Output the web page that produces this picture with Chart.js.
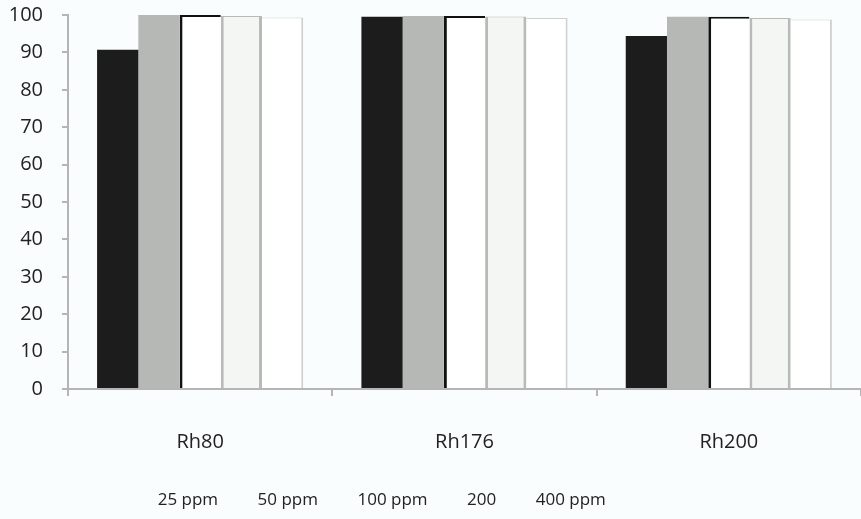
<!DOCTYPE html>
<html>
<head>
<meta charset="utf-8">
<script src="https://cdn.jsdelivr.net/npm/chart.js@4.4.1/dist/chart.umd.min.js"></script>
<style>
  html, body { margin: 0; padding: 0; background: #fafdfd; }
  #wrap { width: 861px; height: 519px; }
</style>
</head>
<body>
<div id="wrap"><canvas id="myChart"></canvas></div>
<script>
// data
const categories = ["Rh80", "Rh176", "Rh200"];
const seriesNames = ["25 ppm", "50 ppm", "100 ppm", "200", "400 ppm"];
const ppm25 = [90.7, 99.5, 94.4];
const ppm50 = [100, 99.7, 99.5];
const ppm100 = [100, 99.7, 99.5];
const ppm200 = [99.7, 99.6, 99.2];
const ppm400 = [99.3, 99.2, 98.8];
const yTicks = [0, 10, 20, 30, 40, 50, 60, 70, 80, 90, 100];

const axisGray = "#b4b6b6";
const font = "Open Sans";

// nudge the legend left, like in the original
const shiftLegend = {
  id: "shiftLegend",
  afterLayout(chart) {
    chart.legend.left -= 67;
    chart.legend.right -= 67;
  }
};

const ctx = document.getElementById("myChart");

new Chart(ctx, {
  type: "bar",
  data: {
    labels: categories,
    datasets: [
      { label: seriesNames[0], data: ppm25, backgroundColor: "#1b1c1b", borderWidth: 0 },
      { label: seriesNames[1], data: ppm50, backgroundColor: "#b6b8b6", borderWidth: 0 },
      { label: seriesNames[2], data: ppm100, backgroundColor: "#ffffff",
        borderColor: "#111111", borderWidth: { left: 3, top: 2, right: 0, bottom: 0 } },
      { label: seriesNames[3], data: ppm200, backgroundColor: "#f3f6f3",
        borderColor: "#b8bab8", borderWidth: { left: 3, top: 1, right: 3, bottom: 0 } },
      { label: seriesNames[4], data: ppm400, backgroundColor: "#ffffff",
        borderColor: "#cfd1cf", borderWidth: { left: 0, top: 1, right: 2, bottom: 0 } }
    ]
  },
  options: {
    responsive: true,
    maintainAspectRatio: false,
    animation: false,
    layout: { padding: { top: 0, left: 5, right: 0, bottom: 0 } },
    datasets: {
      bar: { categoryPercentage: 0.78, barPercentage: 1, borderSkipped: false }
    },
    scales: {
      x: {
        offset: true,
        grid: { display: true, offset: true, drawOnChartArea: false, tickLength: 7, color: axisGray, lineWidth: 2 },
        border: { color: axisGray, width: 2 },
        ticks: { color: "#222", font: { family: font, size: 20 }, padding: 34 },
        afterFit: (axis) => { axis.height -= 4; }
      },
      y: {
        min: 0,
        max: 100,
        afterBuildTicks: (axis) => { axis.ticks = yTicks.map(v => ({ value: v })); },
        afterFit: (axis) => {
          axis.width = 63;
          axis.paddingTop = 15;
          axis.paddingBottom = 12;
        },
        grid: { display: true, drawOnChartArea: false, tickLength: 6, color: axisGray, lineWidth: 2 },
        border: { color: axisGray, width: 2 },
        ticks: { color: "#222", font: { family: font, size: 20 }, padding: 19 }
      }
    },
    plugins: {
      legend: {
        position: "bottom",
        labels: {
          boxWidth: 23,
          boxHeight: 0,
          padding: 8,
          color: "#222",
          font: { family: font, size: 17 },
          generateLabels: (chart) => chart.data.datasets.map((ds, i) => ({
            text: ds.label, fillStyle: "transparent", strokeStyle: "transparent",
            lineWidth: 0, datasetIndex: i, fontColor: "#222"
          }))
        }
      },
      tooltip: { enabled: false }
    }
  },
  plugins: [shiftLegend]
});
</script>
</body>
</html>
